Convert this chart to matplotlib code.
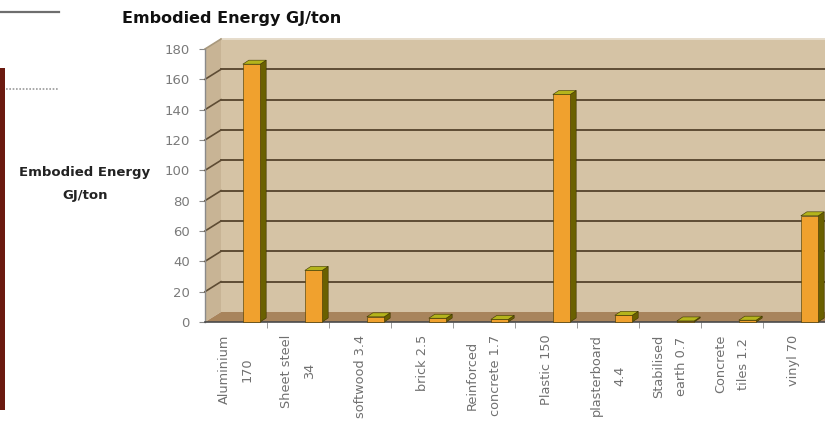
import matplotlib
matplotlib.use("Agg")
import matplotlib.pyplot as plt
from matplotlib.patches import Polygon, Rectangle
from matplotlib.lines import Line2D

# ---- data ----
categories = ["Aluminium\n170", "Sheet steel\n34", "softwood 3.4", "brick 2.5",
              "Reinforced\nconcrete 1.7", "Plastic 150", "plasterboard\n4.4",
              "Stabilised\nearth 0.7", "Concrete\ntiles 1.2", "vinyl 70"]
values = [170, 34, 3.4, 2.5, 1.7, 150, 4.4, 0.7, 1.2, 70]
yticks = [0, 20, 40, 60, 80, 100, 120, 140, 160, 180]
title = "Embodied Energy GJ/ton"
ylabel = "Embodied Energy\nGJ/ton"

W, H = 825, 437
fig = plt.figure(figsize=(W / 100, H / 100), dpi=100)
fig.patch.set_facecolor("white")

# axes in pixel geometry (front plane)
x0_px, x1_px = 205, 825
y0_px, y1_px = 322, 49
ax = fig.add_axes([x0_px / W, (H - y0_px) / H, (x1_px - x0_px) / W, (y0_px - y1_px) / H])
n = len(categories)
ax.set_xlim(-0.5, n - 0.5)
ax.set_ylim(0, 180)
ax.patch.set_visible(False)
for s in ax.spines.values():
    s.set_visible(False)

# pixel -> data conversions
px_x = (n) / (x1_px - x0_px)
px_y = 180 / (y0_px - y1_px)
wdx, wdy = 16 * px_x, 10 * px_y      # wall depth offset
bdx, bdy = 6 * px_x, 4 * px_y        # bar depth offset
xr = n - 0.5 + 0.2                    # extend beyond right edge

wall_c = "#d5c3a5"
side_c = "#c8b495"
floor_c = "#a8845c"
grid_c = "#5e4c34"

# left side wall
ax.add_patch(Polygon([(-0.5, 0), (-0.5 + wdx, wdy), (-0.5 + wdx, 180 + wdy), (-0.5, 180)],
                     closed=True, facecolor=side_c, edgecolor="none", clip_on=False, zorder=1))
# back wall
ax.add_patch(Rectangle((-0.5 + wdx, wdy), xr - (-0.5 + wdx), 180, facecolor=wall_c,
                       edgecolor="none", clip_on=False, zorder=1))
# floor
ax.add_patch(Polygon([(-0.5, 0), (xr, 0), (xr, wdy), (-0.5 + wdx, wdy)],
                     closed=True, facecolor=floor_c, edgecolor="none", clip_on=False, zorder=2))

# gridlines on wall + diagonals on side wall
for t in yticks:
    if t == 0:
        continue
    c = grid_c if t < 180 else "#e6dccb"
    ax.add_line(Line2D([-0.5 + wdx, xr], [t + wdy, t + wdy], color=c, lw=1.4,
                       clip_on=False, zorder=2))
    ax.add_line(Line2D([-0.5, -0.5 + wdx], [t, t + wdy], color=grid_c if t < 180 else "#a8987c",
                       lw=1.2, clip_on=False, zorder=2))

# axis lines
ax.add_line(Line2D([-0.5, -0.5], [0, 180], color="#8a8a8a", lw=1.0, clip_on=False, zorder=3))
ax.add_line(Line2D([-0.5, xr], [0, 0], color="#4a4a4a", lw=1.2, clip_on=False, zorder=3))

# bars (front + side + top)
front_c = "#f0a12e"
bside_c = "#6a6000"
top_c = "#b4b41c"
edge_c = "#3c3400"
bw = 0.28
shift = 0.25
xs = [i + shift for i in range(n)]
ax.bar(xs, values, width=bw, color=front_c, edgecolor=edge_c, linewidth=0.4, zorder=5,
       clip_on=False)
for x, v in zip(xs, values):
    r = x + bw / 2
    l = x - bw / 2
    ax.add_patch(Polygon([(r, 0), (r + bdx, bdy), (r + bdx, v + bdy), (r, v)], closed=True,
                         facecolor=bside_c, edgecolor=edge_c, lw=0.4, zorder=4, clip_on=False))
    ax.add_patch(Polygon([(l, v), (r, v), (r + bdx, v + bdy), (l + bdx, v + bdy)], closed=True,
                         facecolor=top_c, edgecolor=edge_c, lw=0.4, zorder=6, clip_on=False))

# ticks
ax.set_yticks(yticks)
ax.set_yticklabels([str(t) for t in yticks], fontsize=9.5, color="#7a7a7a",
                   family="DejaVu Sans")
ax.tick_params(axis="y", length=4, color="#8a8a8a", pad=7)
ax.set_xticks(range(n))
ax.set_xticklabels(categories, rotation=90, fontsize=9.3, color="#707070",
                   family="DejaVu Sans", multialignment="center", linespacing=2.0)
ax.tick_params(axis="x", length=0, pad=9)
ax.set_xticks([i + 0.5 for i in range(n - 1)], minor=True)
ax.tick_params(axis="x", which="minor", length=4, color="#8a8a8a")

# title and y label
fig.text(232 / W, 1 - 19 / H, title, ha="center", va="center", fontsize=11.5,
         fontweight="bold", family="DejaVu Sans", color="#111111")
fig.text(85 / W, 1 - 184 / H, ylabel, ha="center", va="center", fontsize=9.5,
         fontweight="bold", family="DejaVu Sans", color="#222222",
         multialignment="center", linespacing=2.0)

# slide decorations on the left
fig.add_artist(Line2D([0, 59 / W], [1 - 12 / H, 1 - 12 / H], color="#6e6e6e", lw=1.6))
fig.add_artist(Line2D([6 / W, 59 / W], [1 - 89 / H, 1 - 89 / H], color="#9a9a9a", lw=1.2,
                      linestyle=(0, (1, 1))))
fig.add_artist(Rectangle((0, 1 - 410 / H), 5 / W, (410 - 68) / H, facecolor="#6b1a10",
                         edgecolor="none"))

fig.savefig("out.png", dpi=100)
